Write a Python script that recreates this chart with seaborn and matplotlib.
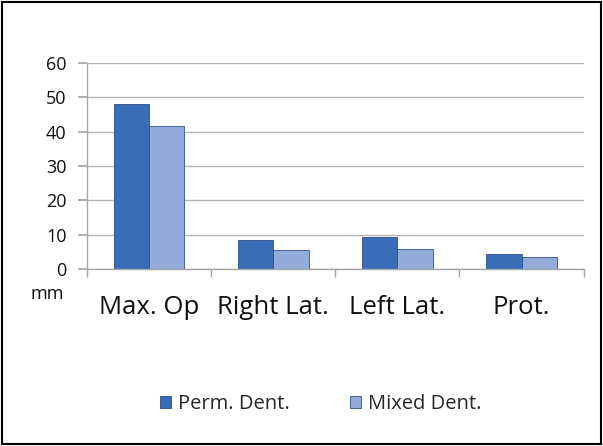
import pandas as pd
import numpy as np
import matplotlib.pyplot as plt
import seaborn as sns
from matplotlib.patches import Rectangle

# Chart data
categories = ['Max. Op', 'Right Lat.', 'Left Lat.', 'Prot.']
perm_dent = [48.0, 8.5, 9.3, 4.4]
mixed_dent = [41.5, 5.6, 5.7, 3.5]
series_names = ['Perm. Dent.', 'Mixed Dent.']
y_ticks = [0, 10, 20, 30, 40, 50, 60]

df = pd.DataFrame({
    'category': categories * 2,
    'value': perm_dent + mixed_dent,
    'series': [series_names[0]] * len(categories) + [series_names[1]] * len(categories),
})

sns.set_theme(style='white')
plt.rcParams['font.family'] = ['Open Sans', 'DejaVu Sans']

fig = plt.figure(figsize=(6.03, 4.46), dpi=100)
ax = fig.add_axes([0.144, 0.397, 0.824, 0.462])

palette = {series_names[0]: '#3A6DB8', series_names[1]: '#93ACD9'}
sns.barplot(data=df, x='category', y='value', hue='series', palette=palette,
            saturation=1, width=0.57, ax=ax, edgecolor='#2E4F85', linewidth=0.6,
            legend=True)

ax.set_ylim(0, 60)
ax.set_yticks(y_ticks)
ax.yaxis.grid(True, color='#B3B3B3', linewidth=1)
ax.set_axisbelow(True)
ax.set_xlim(-0.5, len(categories) - 0.5)

for side in ['top', 'right']:
    ax.spines[side].set_visible(False)
for side in ['left', 'bottom']:
    ax.spines[side].set_color('#A6A6A6')
    ax.spines[side].set_linewidth(1)

ax.set_xlabel('')
ax.set_ylabel('')
ax.tick_params(axis='x', which='major', length=0, labelsize=18.5, pad=19, colors='#111111')
ax.set_xticks(np.arange(-0.5, len(categories)), minor=True)
ax.tick_params(axis='x', which='minor', length=6, color='#A6A6A6', direction='out', bottom=True)
ax.tick_params(axis='y', length=6.5, color='#A6A6A6', labelsize=13, left=True,
               labelcolor='#111111', pad=8)

fig.text(0.106, 1 - 294 / 446, 'mm', fontsize=13, color='#111111', ha='right', va='center')

handles, labels = ax.get_legend_handles_labels()
ax.legend_.remove()
fig.legend(handles, labels, loc='center', bbox_to_anchor=(0.532, 1 - 404 / 446), ncol=2,
           frameon=False, fontsize=14.5, handlelength=0.55, handleheight=0.55,
           columnspacing=3.0, handletextpad=0.35)

fig.add_artist(Rectangle((0.004, 0.004), 0.992, 0.992, transform=fig.transFigure,
                         fill=False, edgecolor='black', linewidth=1.5))

fig.savefig('out.png', dpi=100)
